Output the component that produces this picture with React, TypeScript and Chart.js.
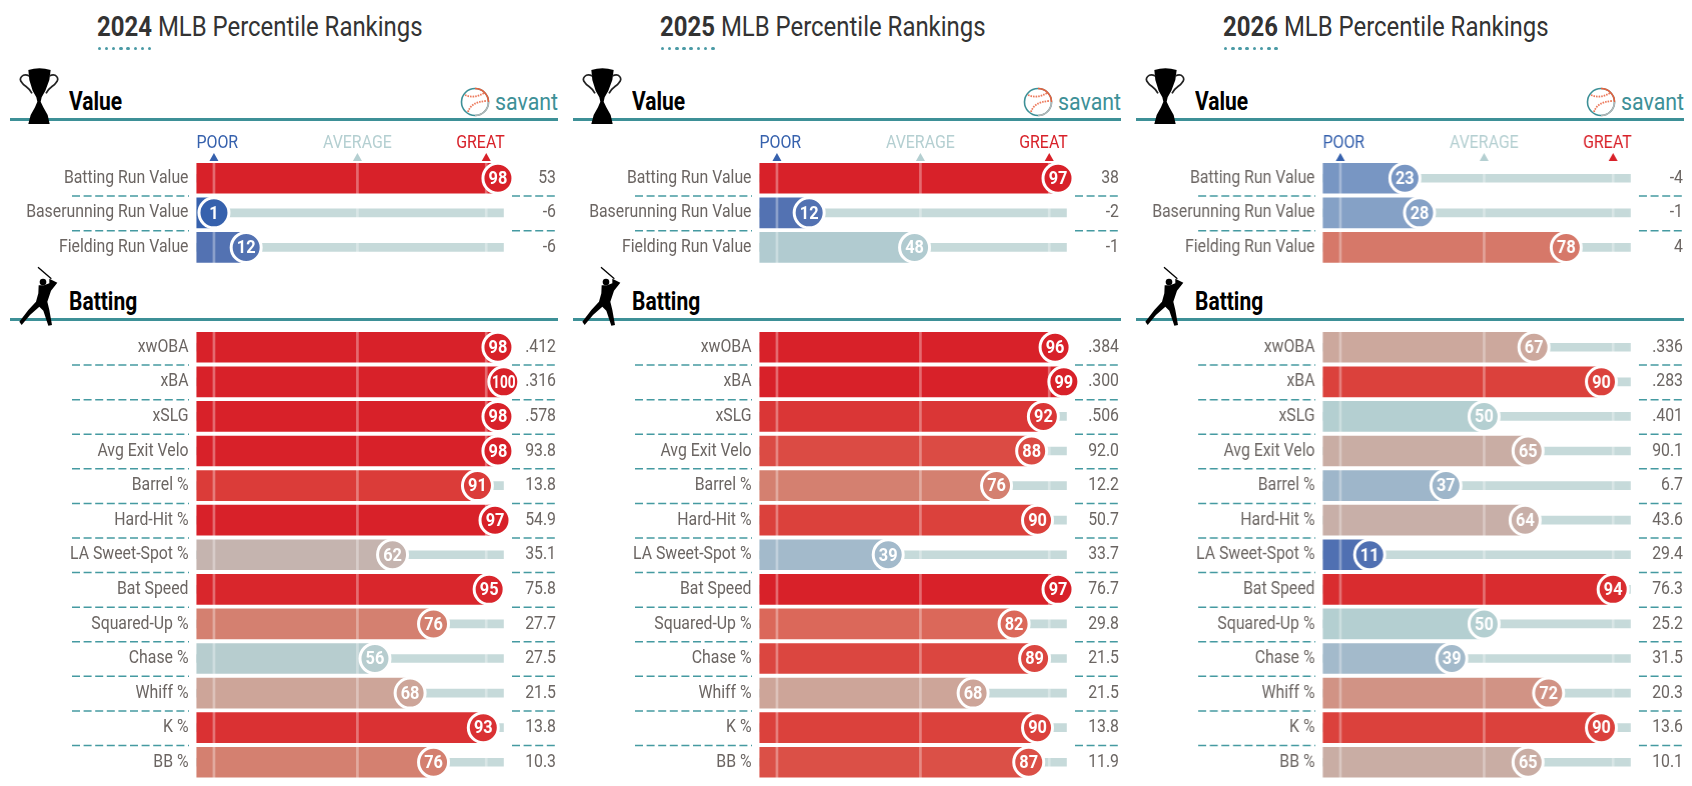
import { useEffect, useRef } from 'react';
import { Chart, registerables } from 'chart.js';

Chart.register(...registerables);

const years = ['2024', '2025', '2026'];

const valueLabels = ['Batting Run Value', 'Baserunning Run Value', 'Fielding Run Value'];
const battingLabels = [
  'xwOBA', 'xBA', 'xSLG', 'Avg Exit Velo', 'Barrel %', 'Hard-Hit %', 'LA Sweet-Spot %',
  'Bat Speed', 'Squared-Up %', 'Chase %', 'Whiff %', 'K %', 'BB %',
];

const value2024 = [98, 1, 12];
const value2025 = [97, 12, 48];
const value2026 = [23, 28, 78];
const valueStats2024 = ['53', '-6', '-6'];
const valueStats2025 = ['38', '-2', '-1'];
const valueStats2026 = ['-4', '-1', '4'];

const batting2024 = [98, 100, 98, 98, 91, 97, 62, 95, 76, 56, 68, 93, 76];
const batting2025 = [96, 99, 92, 88, 76, 90, 39, 97, 82, 89, 68, 90, 87];
const batting2026 = [67, 90, 50, 65, 37, 64, 11, 94, 50, 39, 72, 90, 65];
const battingStats2024 = ['.412', '.316', '.578', '93.8', '13.8', '54.9', '35.1', '75.8', '27.7', '27.5', '21.5', '13.8', '10.3'];
const battingStats2025 = ['.384', '.300', '.506', '92.0', '12.2', '50.7', '33.7', '76.7', '29.8', '21.5', '21.5', '13.8', '11.9'];
const battingStats2026 = ['.336', '.283', '.401', '90.1', '6.7', '43.6', '29.4', '76.3', '25.2', '31.5', '20.3', '13.6', '10.1'];

const valueData = [value2024, value2025, value2026];
const valueStats = [valueStats2024, valueStats2025, valueStats2026];
const battingData = [batting2024, batting2025, batting2026];
const battingStats = [battingStats2024, battingStats2025, battingStats2026];

// percentile -> colour ramp
const rampStops = [1, 12, 23, 39, 50, 56, 62, 68, 76, 82, 90, 96];
const rampColors = [
  [54, 97, 173], [83, 114, 178], [120, 150, 195], [163, 186, 203], [180, 207, 209], [183, 205, 207],
  [197, 180, 175], [205, 165, 153], [212, 128, 112], [219, 104, 90], [219, 65, 60], [216, 33, 41],
];

const guideTicks = [1, 50, 94];
const scaleLabels = ['POOR', 'AVERAGE', 'GREAT'];
const scaleColors = ['#3661ad', '#b4cfd1', '#d82129'];

const PANEL_W = 563.2;
const FONT = 'Roboto, sans-serif';
const TEAL = '#3d9097';
const TEXT = '#6b6562';

function rampColor(p: number) {
  if (p <= rampStops[0]) return `rgb(${rampColors[0].join(',')})`;
  for (let i = 1; i < rampStops.length; i++) {
    if (p <= rampStops[i]) {
      const t = (p - rampStops[i - 1]) / (rampStops[i] - rampStops[i - 1]);
      const c = rampColors[i - 1].map((v, k) => Math.round(v + (rampColors[i][k] - v) * t));
      return `rgb(${c.join(',')})`;
    }
  }
  return `rgb(${rampColors[rampColors.length - 1].join(',')})`;
}

// Roboto squeezed sideways, there is no Roboto Condensed on the box
function narrowText(ctx: any, text: string, x: number, y: number, align: string, font: string, color: string, sx: number) {
  ctx.save();
  ctx.font = font;
  ctx.fillStyle = color;
  ctx.textAlign = align;
  ctx.textBaseline = 'middle';
  ctx.translate(x, y);
  ctx.scale(sx, 1);
  ctx.fillText(text, 0, 0);
  ctx.restore();
}

function SectionChart({ labels, data, stats, top, height, paddingTop, showScale }: {
  labels: string[];
  data: number[];
  stats: string[];
  top: number;
  height: number;
  paddingTop: number;
  showScale: boolean;
}) {
  const canvasRef = useRef<HTMLCanvasElement>(null);

  useEffect(() => {
    if (!canvasRef.current) return;

    const rowPlugin = {
      id: 'rowText',
      beforeDraw(chart: any) {
        const { ctx, scales } = chart;
        const y = scales.y;
        const pitch = y.getPixelForValue(1) - y.getPixelForValue(0);
        ctx.save();
        ctx.strokeStyle = '#459aa1';
        ctx.lineWidth = 1.5;
        ctx.setLineDash([8, 3.6]);
        labels.forEach((_, i) => {
          if (i === labels.length - 1) return;
          const py = y.getPixelForValue(i) + pitch / 2 + 0.5;
          ctx.beginPath();
          ctx.moveTo(72, py);
          ctx.lineTo(189, py);
          ctx.moveTo(512, py);
          ctx.lineTo(556, py);
          ctx.stroke();
        });
        ctx.restore();
      },
      afterDatasetDraw(chart: any, args: any) {
        if (args.index !== 1) return;
        const { ctx, scales, chartArea } = chart;
        ctx.save();
        ctx.strokeStyle = 'rgba(255,255,255,0.33)';
        ctx.lineWidth = 2.7;
        guideTicks.forEach((t) => {
          const px = scales.x.getPixelForValue(t);
          ctx.beginPath();
          ctx.moveTo(px, chartArea.top);
          ctx.lineTo(px, chartArea.bottom);
          ctx.stroke();
        });
        ctx.restore();
      },
      afterDraw(chart: any) {
        const { ctx, scales, chartArea } = chart;
        const x = scales.x;
        const y = scales.y;
        labels.forEach((label, i) => {
          const py = y.getPixelForValue(i);
          narrowText(ctx, label, 188.5, py, 'right', `18.5px ${FONT}`, TEXT, 0.855);
          narrowText(ctx, stats[i], 556, py, 'right', `18.5px ${FONT}`, TEXT, 0.855);
          narrowText(ctx, String(data[i]), x.getPixelForValue(data[i]), py + 1, 'center',
            `bold 19px ${FONT}`, '#fff', data[i] === 100 ? 0.72 : 0.86);
        });
        if (showScale) {
          const anchors = [x.getPixelForValue(-5), x.getPixelForValue(50), x.getPixelForValue(100) + 1];
          const aligns = ['left', 'center', 'right'];
          scaleLabels.forEach((label, i) => {
            narrowText(ctx, label, anchors[i], chartArea.top - 18, aligns[i], `18px ${FONT}`, scaleColors[i], 0.885);
            const px = x.getPixelForValue(guideTicks[i]);
            ctx.fillStyle = scaleColors[i];
            ctx.beginPath();
            ctx.moveTo(px, chartArea.top - 8);
            ctx.lineTo(px + 4.5, chartArea.top);
            ctx.lineTo(px - 4.5, chartArea.top);
            ctx.closePath();
            ctx.fill();
          });
        }
      },
    };

    const chart = new Chart(canvasRef.current, {
      type: 'bar',
      data: {
        labels,
        datasets: [
          {
            type: 'line',
            label: 'Circle',
            data,
            indexAxis: 'y',
            order: 0,
            showLine: false,
            clip: false,
            pointRadius: 15,
            pointBorderWidth: 3,
            pointBorderColor: '#fff',
            pointBackgroundColor: data.map(rampColor),
          },
          {
            label: 'Percentile',
            data,
            order: 1,
            base: -5,
            barThickness: 30,
            grouped: false,
            backgroundColor: data.map(rampColor),
          },
          {
            label: 'Track',
            data: labels.map(() => 100),
            order: 2,
            base: -5,
            barThickness: 8,
            grouped: false,
            backgroundColor: '#c6dada',
          },
        ],
      } as any,
      options: {
        indexAxis: 'y',
        animation: false,
        responsive: false,
        layout: {
          autoPadding: false,
          padding: { left: 196.4, right: PANEL_W - 504, top: paddingTop, bottom: height - paddingTop - labels.length * 34.58 },
        },
        plugins: { legend: { display: false }, tooltip: { enabled: false } },
        scales: {
          x: { type: 'linear', min: -5, max: 100, display: false },
          y: { type: 'category', display: false },
        },
      } as any,
      plugins: [rowPlugin],
    });

    return () => {
      chart.destroy();
    };
  }, []);

  return (
    <canvas
      ref={canvasRef}
      width={PANEL_W}
      height={height}
      style={{ position: 'absolute', left: 0, top, width: PANEL_W, height }}
    />
  );
}

function Squeezed({ left, top, size, weight = 400, color, sx, children }: any) {
  return (
    <div
      style={{
        position: 'absolute', left, top, fontFamily: FONT, fontSize: size, fontWeight: weight, color,
        lineHeight: 1, whiteSpace: 'nowrap', transform: `scaleX(${sx})`, transformOrigin: 'left top',
      }}
    >
      {children}
    </div>
  );
}

function Trophy() {
  return (
    <svg viewBox="0 0 180 210" width={60} height={70} style={{ position: 'absolute', left: 10, top: 60 }}>
      <path
        d="M55,30 Q88,20 122,30 L118,60 L106,92 L95,112 L92,125 L100,142 L113,165 L119,192 L55,192 L62,165 L75,142 L82,125 L79,112 L68,92 L58,60 Z"
        fill="#000"
      />
      <path
        d="M58,48 C38,38 24,55 36,68 C44,80 58,82 66,100 M118,48 C138,38 150,55 138,68 C130,80 116,82 108,100"
        fill="none" stroke="#222" strokeWidth={5}
      />
    </svg>
  );
}

function Batter() {
  return (
    <svg viewBox="0 0 180 210" width={60} height={70} style={{ position: 'absolute', left: 10, top: 260 }}>
      <path d="M84,22 L124,56" stroke="#000" strokeWidth={4} />
      <circle cx={99} cy={66} r={10} fill="#000" />
      <path
        d="M118,56 L142,68 L123,92 L112,125 L118,150 L126,195 L115,197 L100,152 L88,140 L60,165 L35,195 L28,185 L55,150 L78,125 L85,100 L86,76 L102,76 L118,70 Z"
        fill="#000"
      />
    </svg>
  );
}

function SavantLogo() {
  return (
    <>
      <svg viewBox="0 0 32 32" width={32} height={32} style={{ position: 'absolute', left: 459, top: 86 }}>
        <circle cx={16} cy={16} r={13.5} fill="none" stroke="#3d9097" strokeWidth={1.6} />
        <path d="M16,2.5 A13.5,13.5 0 0 1 29.5,16" fill="none" stroke="#e8603c" strokeWidth={1.6} />
        <path d="M29.5,16 A13.5,13.5 0 0 1 16,29.5" fill="none" stroke="#b5b5b5" strokeWidth={1.6} />
        <path d="M6,9 Q15,13 25,7 M9,26 Q12,16 27,15" fill="none" stroke="#ec7a5c" strokeWidth={1.8} strokeDasharray="1.6 1" />
      </svg>
      <Squeezed left={495} top={90} size={24} color="#3d9097" sx={0.89}>savant</Squeezed>
    </>
  );
}

function Header({ label, top }: { label: string; top: number }) {
  return (
    <Squeezed left={69} top={top} size={25} weight={700} color="#000" sx={0.84}>{label}</Squeezed>
  );
}

function Panel({ index }: { index: number }) {
  const dots = [0, 1, 2, 3, 4, 5, 6, 7];
  return (
    <div style={{ position: 'absolute', left: index * PANEL_W, top: 0, width: PANEL_W, height: 786 }}>
      <Squeezed left={97} top={13} size={28} color="#333" sx={0.855}>
        <b>{years[index]}</b> MLB Percentile Rankings
      </Squeezed>
      {dots.map((d) => (
        <div
          key={d}
          style={{
            position: 'absolute', left: 97.5 + d * 7.2, top: 46.5, width: 3.6, height: 3.6,
            borderRadius: '50%', background: '#4a9aa5',
          }}
        />
      ))}
      <div style={{ position: 'absolute', left: 9.7, width: 548, top: 118, height: 3, background: TEAL }} />
      <div style={{ position: 'absolute', left: 9.7, width: 548, top: 317.5, height: 3, background: TEAL }} />
      <Trophy />
      <Batter />
      <Header label="Value" top={89} />
      <Header label="Batting" top={289} />
      <SavantLogo />
      <SectionChart labels={valueLabels} data={valueData[index]} stats={valueStats[index]} top={125} height={148} paddingTop={36} showScale />
      <SectionChart labels={battingLabels} data={battingData[index]} stats={battingStats[index]} top={329.5} height={456} paddingTop={0} showScale={false} />
    </div>
  );
}

export default function App() {
  return (
    <div style={{ position: 'absolute', left: 0, top: 0, width: 1692, height: 786, overflow: 'hidden', background: '#fff' }}>
      {years.map((y, i) => (
        <Panel key={y} index={i} />
      ))}
    </div>
  );
}
